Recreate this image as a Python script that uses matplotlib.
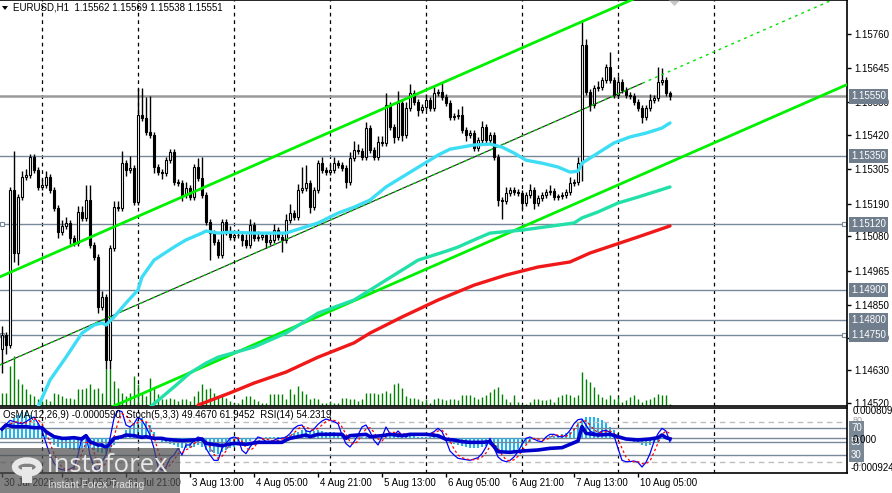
import matplotlib
matplotlib.use("Agg")
import matplotlib.pyplot as plt
import numpy as np
from matplotlib.patches import Rectangle, Polygon, Circle

plt.rcParams['font.family'] = ['Liberation Sans', 'DejaVu Sans']
plt.rcParams['font.size'] = 7

symbol_title = "EURUSD,H1  1.15562 1.15569 1.15538 1.15551"
ind_title = "OsMA(12,26,9) -0.0000590  Stoch(5,3,3) 49.4670 61.9452  RSI(14) 54.2319"

first_open = 1.14700
closes = [
    1.14748, 1.14715, 1.15236, 1.15024, 1.15212, 1.15279, 1.15286, 1.15346, 1.15303, 1.15246,
    1.15252, 1.15279, 1.15236, 1.15175, 1.15094, 1.15115, 1.15125, 1.15074, 1.15058, 1.15162,
    1.15142, 1.15202, 1.15051, 1.15010, 1.14842, 1.14876, 1.14664, 1.15041, 1.15178, 1.15175,
    1.15326, 1.15303, 1.15310, 1.15195, 1.15488, 1.15478, 1.15430, 1.15420, 1.15313, 1.15296,
    1.15293, 1.15336, 1.15363, 1.15262, 1.15259, 1.15219, 1.15242, 1.15212, 1.15313, 1.15276,
    1.15219, 1.15128, 1.15091, 1.15061, 1.15017, 1.15128, 1.15094, 1.15078, 1.15084, 1.15086,
    1.15068, 1.15051, 1.15118, 1.15074, 1.15078, 1.15084, 1.15061, 1.15068, 1.15101, 1.15078,
    1.15068, 1.15135, 1.15158, 1.15145, 1.15236, 1.15242, 1.15259, 1.15178, 1.15236, 1.15326,
    1.15303, 1.15296, 1.15303, 1.15326, 1.15320, 1.15310, 1.15262, 1.15343, 1.15370, 1.15367,
    1.15346, 1.15444, 1.15370, 1.15346, 1.15397, 1.15394, 1.15521, 1.15447, 1.15414, 1.15528,
    1.15420, 1.15511, 1.15562, 1.15531, 1.15504, 1.15514, 1.15538, 1.15511, 1.15562, 1.15565,
    1.15548, 1.15528, 1.15481, 1.15483, 1.15488, 1.15437, 1.15420, 1.15427, 1.15377, 1.15404,
    1.15447, 1.15404, 1.15420, 1.15346, 1.15202, 1.15200, 1.15226, 1.15236, 1.15229, 1.15226,
    1.15192, 1.15219, 1.15236, 1.15192, 1.15209, 1.15219, 1.15229, 1.15231, 1.15212, 1.15214,
    1.15219, 1.15229, 1.15259, 1.15262, 1.15326, 1.15722, 1.15565, 1.15521, 1.15578, 1.15581,
    1.15605, 1.15649, 1.15605, 1.15555, 1.15598, 1.15572, 1.15555, 1.15551, 1.15531, 1.15511,
    1.15481, 1.15511, 1.15538, 1.15545, 1.15598, 1.15605, 1.15562, 1.15551]

wick_up_pips = [
    3, 1, 1, 13, 1, 2, 2, 1, 1, 1,   2, 2, 1, 1, 1, 2, 2, 1, 1, 2,
    2, 5, 5, 1, 1, 2, 1, 1, 2, 2,    4, 1, 4, 1, 9, 9, 7, 12, 1, 1,
    1, 1, 1, 1, 1, 1, 2, 1, 1, 3,    7, 1, 1, 1, 1, 1, 1, 2, 1, 2,
    1, 2, 2, 1, 2, 1, 1, 2, 2, 1,    1, 2, 3, 1, 2, 7, 6, 1, 1, 1,
    2, 1, 2, 2, 1, 1, 1, 2, 3, 2,    1, 2, 1, 1, 2, 2, 4, 1, 1, 4,
    1, 2, 3, 1, 1, 1, 2, 1, 2, 1,    3, 1, 1, 1, 2, 3, 1, 1, 1, 1,
    2, 1, 1, 1, 1, 1, 2, 1, 1, 1,    1, 1, 2, 1, 1, 1, 1, 2, 1, 1,
    1, 1, 2, 1, 2, 8, 2, 1, 1, 2,    1, 1, 5, 1, 2, 1, 1, 1, 1, 1,
    1, 1, 2, 1, 5, 4, 1, 0.7]
wick_dn_pips = [
    8, 3, 1, 3, 4, 1, 1, 1, 1, 1,    1, 1, 1, 1, 2, 1, 1, 2, 1, 1,
    1, 1, 1, 1, 2, 1, 3, 3, 1, 1,    1, 2, 1, 1, 1, 1, 1, 1, 2, 1,
    2, 1, 1, 1, 1, 2, 1, 1, 1, 1,    1, 1, 9, 1, 1, 1, 1, 1, 1, 1,
    2, 1, 1, 1, 1, 1, 2, 1, 1, 1,    4, 1, 1, 1, 1, 1, 1, 2, 1, 1,
    1, 1, 1, 1, 1, 1, 2, 1, 1, 1,    1, 1, 1, 1, 1, 1, 1, 1, 2, 1,
    2, 1, 1, 1, 2, 1, 1, 1, 1, 1,    1, 1, 1, 1, 1, 1, 2, 1, 1, 1,
    1, 1, 1, 1, 2, 6, 1, 1, 1, 1,    2, 1, 1, 2, 1, 1, 1, 1, 1, 1,
    1, 1, 1, 1, 1, 6, 1, 2, 1, 1,    1, 1, 1, 1, 1, 1, 1, 1, 1, 1,
    2, 1, 1, 1, 1, 1, 1, 1.3]
volumes = [
    13, 13, 40, 50, 27, 22, 17, 12, 10, 7,   5, 7, 5, 13, 12, 10, 8, 8, 7, 17,
    17, 18, 22, 17, 18, 13, 37, 37, 25, 18,  13, 10, 13, 30, 22, 12, 10, 28, 18, 12,
    7, 7, 8, 7, 5, 7, 7, 5, 10, 15,          22, 17, 18, 13, 10, 12, 8, 5, 3, 3,
    7, 10, 10, 7, 5, 3, 3, 12, 12, 12,       12, 7, 17, 12, 20, 15, 12, 7, 8, 7,
    3, 3, 5, 3, 3, 8, 8, 7, 7, 5,            7, 13, 13, 13, 12, 13, 15, 13, 22, 23,
    18, 10, 8, 8, 7, 5, 7, 3, 7, 8,          7, 6, 7, 7, 6, 11, 11, 11, 9, 7,
    9, 11, 14, 17, 19, 12, 7, 4, 11, 4,      2, 2, 4, 7, 7, 6, 6, 7, 4, 9,
    11, 12, 11, 9, 11, 34, 27, 24, 19, 12,   9, 7, 11, 7, 9, 4, 6, 9, 11, 7,
    4, 6, 7, 9, 12, 11, 11, 2]

ema_fast_idx = [9, 12, 16, 20, 23, 25, 26, 28, 31, 34, 35, 38, 43, 46, 50, 51, 54, 57, 63, 71,
                75, 79, 84, 88, 92, 96, 100, 105, 109, 112, 115, 118, 122, 125, 128, 131, 135,
                139, 142, 144, 145, 149, 153, 157, 161, 165, 167]
ema_fast_val = [1.14506, 1.14597, 1.14674, 1.14755, 1.14782, 1.14789, 1.14782, 1.14809, 1.14856,
                1.14900, 1.14943, 1.15000, 1.15044, 1.15068, 1.15091, 1.15098, 1.15091, 1.15094,
                1.15091, 1.15091, 1.15108, 1.15125, 1.15158, 1.15178, 1.15202, 1.15246, 1.15279,
                1.15320, 1.15353, 1.15373, 1.15380, 1.15387, 1.15390, 1.15380, 1.15360, 1.15336,
                1.15326, 1.15313, 1.15296, 1.15299, 1.15326, 1.15360, 1.15394, 1.15414, 1.15427,
                1.15444, 1.15461]
ema_mid_idx = [37, 43, 47, 51, 54, 63, 71, 79, 88, 96, 104, 111, 114, 118, 122, 130, 143, 145,
               149, 154, 159, 167]
ema_mid_val = [1.14506, 1.14574, 1.14621, 1.14654, 1.14674, 1.14708, 1.14755, 1.14822, 1.14866,
               1.14933, 1.15000, 1.15030, 1.15044, 1.15068, 1.15091, 1.15101, 1.15125, 1.15142,
               1.15162, 1.15192, 1.15212, 1.15246]
ema_slow_idx = [49, 57, 63, 71, 79, 88, 92, 100, 109, 118, 126, 134, 142, 147, 153, 159, 167]
ema_slow_val = [1.14513, 1.14554, 1.14587, 1.14624, 1.14674, 1.14722, 1.14755, 1.14809, 1.14866,
                1.14916, 1.14950, 1.14977, 1.14994, 1.15024, 1.15051, 1.15078, 1.15115]

channel_idx = [0, 150]
channel_upper = [1.14947, 1.15831]
channel_mid = [1.14651, 1.15535]
channel_lower = [1.14345, 1.15229]

levels = [1.15550, 1.15350, 1.15120, 1.14900, 1.14800, 1.14750]
price_ticks = [1.15760, 1.15645, 1.15530, 1.15420, 1.15305, 1.15190, 1.15080,
               1.14965, 1.14850, 1.14740, 1.14630, 1.14520]

osma_e4 = [
    2.2, 3.1, 4.4, 5.3, 6.2, 7.1, 6.9, 6.2, 4.9, 4.0,   2.7, 1.3, -0.4, -1.8, -2.2, -2.5, -2.7, -2.8, -3.1, -3.1,
    -2.7, -2.5, -2.7, -3.1, -3.6, -4.0, -4.3, -3.6, -1.8, -0.4,   0.9, 2.2, 3.1, 4.0, 4.9, 5.3, 4.4, 3.6, 1.8, 0.4,
    -0.9, -1.3, -1.6, -1.8, -2.2, -2.5, -2.5, -2.7, -2.2, -1.8,   -2.2, -3.1, -3.6, -4.0, -4.3, -3.6, -3.0, -2.5, -2.2, -1.6,
    -1.3, -1.1, -0.7, -0.3, 0.05, 0.2, 0.3, 0.4, 0.4, 0.4,   0.4, 0.7, 0.9, 1.3, 1.8, 2.2, 2.2, 2.0, 2.0, 2.2,
    2.0, 1.8, 1.8, 1.6, 1.3, 1.1, 0.4, 0.0, 0.3, 0.4,   0.4, 0.3, 0.2, 0.0, 0.0, 0.2, 0.4, 0.7, 0.7, 0.6,
    0.4, 0.4, 0.6, 0.6, 0.4, 0.4, 0.4, 0.4, 0.4, 0.6,   0.3, -0.3, -1.0, -1.6, -1.8, -2.0, -2.2, -2.5, -2.7, -2.5,
    -2.2, -2.0, -1.8, -2.2, -3.1, -3.6, -3.6, -3.6, -3.4, -2.8,   -2.2, -1.6, -0.9, -0.4, 0.0, 0.2, 0.4, 0.6, 0.7, 0.9,
    1.1, 1.3, 1.8, 2.7, 4.0, 5.2, 5.8, 5.8, 5.8, 5.5,   4.9, 4.0, 3.1, 2.2, 1.3, 0.4, 0.0, -0.4, -0.9, -1.3,
    -1.8, -2.0, -1.8, -1.3, -0.9, -0.3, -0.1, -0.6]
stoch_main = [
    70, 76, 82, 80, 78, 77, 80, 84, 87, 78,   67, 48, 30, 18, 10, 8, 7, 9, 12, 30,
    57, 60, 30, 12, 5, 20, 30, 55, 85, 97,    95, 75, 72, 77, 87, 82, 72, 60, 40, 12,
    7, 12, 25, 30, 40, 30, 45, 45, 52, 57,    55, 40, 30, 22, 22, 40, 47, 55, 57, 55,
    37, 32, 42, 50, 57, 55, 50, 50, 52, 55,   55, 57, 62, 70, 74, 75, 66, 65, 69, 76,
    81, 84, 82, 80, 77, 60, 47, 42, 50, 60,   72, 75, 65, 52, 45, 57, 72, 62, 59, 66,
    60, 57, 61, 62, 61, 60, 61, 62, 65, 70,   65, 52, 36, 30, 25, 24, 23, 22, 24, 26,
    32, 42, 55, 41, 27, 22, 20, 22, 27, 35,   46, 55, 57, 54, 51, 50, 57, 61, 61, 58,
    57, 60, 67, 77, 83, 84, 75, 66, 63, 62,   66, 67, 64, 59, 40, 22, 20, 20, 21, 19,
    12, 19, 32, 50, 62, 70, 66, 49.5]
stoch_signal = [
    68, 72, 76, 79, 80, 78, 78, 80, 84, 83,   77, 64, 48, 32, 19, 12, 8, 8, 9, 17,
    33, 49, 49, 34, 16, 12, 18, 35, 57, 79,   92, 89, 81, 75, 79, 82, 80, 71, 57, 37,
    20, 10, 15, 22, 32, 33, 38, 40, 47, 51,   55, 51, 42, 31, 25, 28, 36, 47, 53, 56,
    50, 41, 37, 41, 50, 54, 54, 52, 51, 52,   54, 56, 58, 63, 69, 73, 72, 69, 67, 70,
    75, 80, 82, 82, 80, 72, 61, 50, 46, 51,   61, 69, 71, 64, 54, 51, 58, 64, 64, 62,
    62, 61, 59, 60, 61, 61, 61, 61, 63, 66,   67, 62, 51, 39, 30, 26, 24, 23, 23, 24,
    27, 33, 43, 46, 41, 30, 23, 21, 23, 28,   36, 45, 53, 55, 54, 52, 53, 56, 60, 60,
    59, 58, 61, 68, 76, 81, 81, 75, 68, 64,   64, 65, 66, 63, 54, 40, 27, 21, 20, 20,
    17, 17, 21, 34, 48, 61, 66, 62]
rsi_idx = [0, 1, 3, 6, 8, 10, 11, 13, 15, 16, 18, 20, 21, 22, 24, 25, 26, 27, 28, 30, 31, 33,
           35, 36, 38, 40, 41, 45, 48, 50, 51, 55, 58, 61, 64, 67, 70, 71, 72, 74, 76, 77, 79,
           81, 85, 86, 87, 91, 92, 95, 97, 100, 102, 106, 109, 111, 113, 115, 117, 120, 122,
           124, 127, 130, 134, 137, 140, 142, 144, 145, 146, 149, 152, 154, 156, 159, 162,
           164, 165, 166, 167]
rsi_val = [69, 75, 72.5, 72.5, 71, 71, 65, 57.5, 55, 55, 56, 54, 59, 50, 45, 45, 41, 47.5, 55,
           57.5, 60, 59, 56.5, 57.5, 55, 55, 53.5, 51.5, 52.5, 54, 47.5, 44, 47.5, 46, 49, 49,
           49, 52.5, 55, 57.5, 60, 57.5, 61, 61, 61, 55, 59, 61, 57.5, 59, 61, 59, 61, 61, 59,
           53.5, 52.5, 50, 49, 49, 50, 35, 34, 36, 37.5, 40, 41, 46, 51, 72.5, 62.5, 60, 61,
           57.5, 54, 52.5, 54, 56, 60, 56, 54.23]

xtick_idx = [0, 15, 31, 47, 63, 79, 95, 111, 127, 143, 159]
xtick_labels = ["30 Jul 2026", "31 Jul 05:00", "31 Jul 21:00", "3 Aug 13:00", "4 Aug 05:00",
                "4 Aug 21:00", "5 Aug 13:00", "6 Aug 05:00", "6 Aug 21:00", "7 Aug 13:00",
                "10 Aug 05:00"]
grid_idx = [10, 34, 58, 82, 106, 130, 154, 178]

# ---------------------------------------------------------------- layout
W, H = 892, 493
fig = plt.figure(figsize=(W / 100, H / 100), dpi=100)
fig.patch.set_facecolor('white')

def fx(px):
    return px / W

def fy(py):
    return 1 - py / H

XMIN, XMAX = -0.5, 211.25
ax = fig.add_axes([0, fy(406), fx(847), 406 / H])
axi = fig.add_axes([0, fy(473), fx(847), (473 - 408) / H])

for a in (ax, axi):
    a.set_xlim(XMIN, XMAX)
    a.set_facecolor('white')
    a.spines['left'].set_visible(False)
    for s in ('top', 'right', 'bottom'):
        a.spines[s].set_color('black')
        a.spines[s].set_linewidth(1.2)
    for g in grid_idx:
        a.axvline(g, color='black', lw=0.9, ls=(0, (3, 3)), zorder=1)

ax.set_ylim(1.14510, 1.158742)

# ---------------------------------------------------------------- price panel
n = len(closes)
idx = np.arange(n)
c = np.array(closes)
o = np.array([first_open] + closes[:-1])
hi = np.maximum(o, c) + np.array(wick_up_pips) * 1e-4
lo = np.minimum(o, c) - np.array(wick_dn_pips) * 1e-4

# volumes (bottom of panel)
ax.vlines(idx, 0, np.array(volumes) / 406.0, transform=ax.get_xaxis_transform(),
          color='#008000', lw=1.0, zorder=2)

# horizontal levels
for k, lv in enumerate(levels):
    if k == 0:
        ax.axhline(lv, color='#9A9A9A', lw=1.8, zorder=1.5)
    else:
        ax.axhline(lv, color='#778899', lw=1.0, zorder=1.5)
for lv in (1.15120, 1.14750):
    ax.plot([0, 210.5], [lv, lv], ls='none', marker='s', ms=3.2, mfc='white',
            mec='#778899', mew=0.8, zorder=2, clip_on=False)

# candles
ax.vlines(idx, lo, hi, color='black', lw=1.0, zorder=4)
body = c - o
h = np.where(np.abs(body) < 1.5e-5, 1.2e-5, np.abs(body))
bottom = np.minimum(o, c)
bull = c >= o
ax.bar(idx[bull], h[bull], bottom=bottom[bull], width=0.55, facecolor='white',
       edgecolor='black', lw=0.8, zorder=5)
ax.bar(idx[~bull], h[~bull], bottom=bottom[~bull], width=0.55, facecolor='black',
       edgecolor='black', lw=0.8, zorder=5)

# channel lines (rays)
def ray(vals, x0, x1):
    slope = (vals[1] - vals[0]) / (channel_idx[1] - channel_idx[0])
    xs = np.array([x0, x1])
    return xs, vals[0] + slope * (xs - channel_idx[0])

xs, ys = ray(channel_upper, XMIN, XMAX)
ax.plot(xs, ys, color='#00F000', lw=2.0, zorder=6)
xs, ys = ray(channel_lower, XMIN, XMAX)
ax.plot(xs, ys, color='#00F000', lw=2.0, zorder=6)
xs, ys = ray(channel_mid, XMIN, 160)
ax.plot(xs, ys, color='#202020', lw=0.8, zorder=6)
xs, ys = ray(channel_mid, XMIN, XMAX)
ax.plot(xs, ys, color='#00E000', lw=1.0, ls=(0, (2, 3)), zorder=6.1)

# moving averages
ax.plot(ema_slow_idx, ema_slow_val, color='#F01818', lw=2.4, zorder=7, solid_capstyle='round')
ax.plot(ema_mid_idx, ema_mid_val, color='#22E0A8', lw=2.4, zorder=7, solid_capstyle='round')
ax.plot(ema_fast_idx, ema_fast_val, color='#3CDDF5', lw=2.4, zorder=7, solid_capstyle='round')

# right price axis
ax.yaxis.tick_right()
ax.set_yticks(price_ticks)
ax.set_yticklabels([f"{v:.5f}" for v in price_ticks])
ax.tick_params(axis='y', direction='out', length=3, width=1, pad=2.5, labelsize=7,
               colors='black')
ax.set_xticks([])

box_col = '#6F7D8D'
for lv in levels:
    ax.text(1.0 + 4 / 847, lv, f"{lv:.5f}", transform=ax.get_yaxis_transform(),
            ha='left', va='center', color='white', fontsize=7, zorder=10,
            bbox=dict(boxstyle='square,pad=0.22', fc=box_col, ec='none'))

# title
fig.text(fx(13), fy(8), symbol_title, ha='left', va='center', fontsize=7, color='black')
fig.add_artist(Polygon([[fx(2), fy(6)], [fx(8), fy(6)], [fx(5), fy(10)]], closed=True,
                       transform=fig.transFigure, fc='black', ec='none'))
fig.add_artist(Polygon([[fx(669), fy(0.5)], [fx(680), fy(0.5)], [fx(674.5), fy(6)]], closed=True,
                       transform=fig.transFigure, fc='#C8C8C8', ec='none'))

# ---------------------------------------------------------------- indicator panel
axi.set_ylim(3, 100.5)
axo = axi.twinx()
axo.set_xlim(XMIN, XMAX)
axo.set_ylim(-0.000924, 0.0008093)
axo.axis('off')
osma = np.array(osma_e4) * 1e-4
axo.bar(idx, osma, width=0.5, color='#1EB6F0', zorder=2)
axo.axhline(0, color='#778899', lw=1.0, zorder=1)

for lv, st in ((80, 'dash'), (70, 'solid'), (50, 'solid'), (30, 'solid'), (20, 'dash')):
    if st == 'dash':
        axi.axhline(lv, color='#BEBEBE', lw=1.0, ls=(0, (4, 3)), zorder=1)
    else:
        axi.axhline(lv, color='#778899', lw=1.0, zorder=1)

axi.set_zorder(axo.get_zorder() + 1)
axi.patch.set_visible(False)
axi.plot(idx, stoch_main, color='#0000FF', lw=0.9, zorder=4)
axi.plot(idx, stoch_signal, color='#FF0000', lw=0.9, ls=(0, (2, 2)), zorder=4)
axi.plot(rsi_idx, rsi_val, color='#0000CD', lw=2.6, zorder=5)

axi.set_yticks([])
axi.set_xticks(xtick_idx)
axi.tick_params(axis='x', direction='out', length=3, width=1, labelbottom=False)
for i, lab in zip(xtick_idx, xtick_labels):
    axi.text(i + 0.6, -0.08, lab, transform=axi.get_xaxis_transform(), ha='left', va='top',
             fontsize=7, color='black')

fig.text(fx(3), fy(415.5), ind_title, ha='left', va='center', fontsize=7, color='black', zorder=6)

tr = axi.get_yaxis_transform()
axi.text(1.0 + 6 / 847, 82, "80", transform=tr, ha='left', va='center', fontsize=6.5, color='#A0A0A0')
axi.text(1.0 + 6 / 847, 18, "20", transform=tr, ha='left', va='center', fontsize=6.5, color='#A0A0A0')
fig.text(fx(853), fy(411), "0.0008093", ha='left', va='center', fontsize=7, color='black')
fig.text(fx(851), fy(468), "-0.000924", ha='left', va='center', fontsize=7, color='black')
fig.text(fx(853), fy(440), "0.000", ha='left', va='center', fontsize=7, color='black')
for lv in (70, 50, 30):
    axi.text(1.0 + 4 / 847, lv, f"{lv}", transform=tr, ha='left', va='center', color='white',
             fontsize=7, zorder=10,
             bbox=dict(boxstyle='square,pad=0.2', fc='#7A8794', ec='none'))

# ---------------------------------------------------------------- logo
fig.add_artist(Rectangle((0, 0), fx(180), 45 / H, transform=fig.transFigure,
                         fc='#505050', ec='none', alpha=0.72, zorder=20))
fig.add_artist(Circle((fx(27), fy(467)), 12 / W, transform=fig.transFigure, fill=False,
                      ec='#E8E8E8', lw=4.5, zorder=21))
fig.add_artist(Circle((fx(27), fy(461)), 4.5 / W, transform=fig.transFigure,
                      fc='#E8E8E8', ec='none', zorder=21))
fig.add_artist(Rectangle((fx(22), fy(483)), 10 / W, 16 / H, transform=fig.transFigure,
                         fc='#E8E8E8', ec='none', zorder=21))
fig.text(fx(47), fy(466), "instaforex", ha='left', va='center', fontsize=18.5,
         color='#E8E8E8', family=['Open Sans', 'DejaVu Sans'], zorder=22)
fig.text(fx(48), fy(485), "Instant Forex Trading", ha='left', va='center', fontsize=7.3,
         color='#E0E0E0', zorder=22)

fig.savefig("out.png", dpi=100)
